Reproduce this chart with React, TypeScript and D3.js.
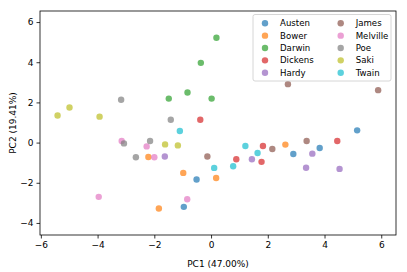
import React, { useEffect, useRef } from "react";
import * as d3 from "d3";

const authors = ["Austen", "Bower", "Darwin", "Dickens", "Hardy", "James", "Melville", "Poe", "Saki", "Twain"];
const colors = ["#1f77b4", "#ff7f0e", "#2ca02c", "#d62728", "#9467bd", "#8c564b", "#e377c2", "#7f7f7f", "#bcbd22", "#17becf"];

// PC1 / PC2 per author, 5 texts each
const pc1 = [
  [5.15, -0.51, -0.96, 2.9, 3.83],
  [-2.21, -0.98, -1.84, 0.18, 2.62],
  [-1.49, -0.83, -0.36, 0.19, 0.02],
  [-0.38, 1.83, 4.45, 0.89, 1.78],
  [-1.63, 1.44, 3.57, 3.35, 4.53],
  [2.71, 5.89, -0.13, 2.16, 3.37],
  [-3.15, -2.27, -2.0, -3.96, -0.84],
  [-3.17, -1.42, -3.07, -2.15, -2.65],
  [-5.41, -4.99, -3.93, -1.62, -1.17],
  [-1.1, 1.21, 1.64, 0.11, 0.78],
];
const pc2 = [
  [0.61, -1.84, -3.2, -0.57, -0.27],
  [-0.72, -1.51, -3.28, -1.76, -0.1],
  [2.19, 2.49, 3.97, 5.22, 2.19],
  [1.14, -0.17, 0.08, -0.83, -0.96],
  [-0.69, -0.83, -0.55, -1.25, -1.31],
  [2.91, 2.61, -0.69, -0.32, 0.08],
  [0.08, -0.19, -0.73, -2.7, -2.82],
  [2.13, 1.14, -0.04, 0.08, -0.73],
  [1.35, 1.75, 1.29, -0.09, -0.14],
  [0.58, -0.17, -0.52, -1.26, -1.18],
];
const xTicks = [-6, -4, -2, 0, 2, 4, 6];
const yTicks = [-4, -2, 0, 2, 4, 6];

const W = 407;
const H = 272;
const m = { left: 40, right: 11, top: 11, bottom: 37 };
const font = "DejaVu Sans";

export default function App() {
  const svgRef = useRef<SVGSVGElement>(null);

  useEffect(() => {
    const svg = d3.select(svgRef.current);
    svg.selectAll("*").remove();

    const x = d3.scaleLinear().domain([-6.03, 6.52]).range([m.left, W - m.right]);
    const y = d3.scaleLinear().domain([-4.6, 6.55]).range([H - m.bottom, m.top]);
    const fmt = (d: any) => String(d).replace("-", "\u2212");

    const pts = authors.flatMap((a, i) => pc1[i].map((v, j) => ({ i, x: v, y: pc2[i][j] })));
    svg
      .append("g")
      .selectAll("circle")
      .data(pts)
      .join("circle")
      .attr("cx", (d) => x(d.x))
      .attr("cy", (d) => y(d.y))
      .attr("r", 3.2)
      .attr("fill", (d) => colors[d.i])
      .attr("fill-opacity", 0.7);

    const gx = svg
      .append("g")
      .attr("transform", `translate(0,${H - m.bottom})`)
      .call(d3.axisBottom(x).tickValues(xTicks).tickFormat(fmt).tickSize(3.5).tickPadding(3));
    const gy = svg
      .append("g")
      .attr("transform", `translate(${m.left},0)`)
      .call(d3.axisLeft(y).tickValues(yTicks).tickFormat(fmt).tickSize(3.5).tickPadding(3));
    [gx, gy].forEach((g) => {
      g.select(".domain").remove();
      g.selectAll("text").attr("font-family", font).attr("font-size", 9).attr("fill", "#000");
      g.selectAll("line").attr("stroke", "#000").attr("stroke-width", 0.8);
    });

    svg
      .append("rect")
      .attr("x", m.left)
      .attr("y", m.top)
      .attr("width", W - m.left - m.right)
      .attr("height", H - m.top - m.bottom)
      .attr("fill", "none")
      .attr("stroke", "#000")
      .attr("stroke-width", 0.8);

    svg
      .append("text")
      .attr("x", (m.left + W - m.right) / 2)
      .attr("y", 267)
      .attr("text-anchor", "middle")
      .attr("font-family", font)
      .attr("font-size", 9)
      .text("PC1 (47.00%)");
    svg
      .append("text")
      .attr("transform", `translate(16,${(m.top + H - m.bottom) / 2}) rotate(-90)`)
      .attr("text-anchor", "middle")
      .attr("font-family", font)
      .attr("font-size", 9)
      .text("PC2 (19.41%)");

    // legend
    const lg = svg.append("g");
    lg.append("rect")
      .attr("x", 253)
      .attr("y", 14.5)
      .attr("width", 138)
      .attr("height", 66.5)
      .attr("rx", 2)
      .attr("fill", "#fff")
      .attr("fill-opacity", 0.8)
      .attr("stroke", "#ccc")
      .attr("stroke-width", 0.8);
    const items = lg
      .selectAll("g")
      .data(authors)
      .join("g")
      .attr("transform", (d, i) => `translate(${i < 5 ? 265 : 340.7},${23.3 + (i % 5) * 12.35})`);
    items
      .append("circle")
      .attr("r", 3.2)
      .attr("fill", (d, i) => colors[i])
      .attr("fill-opacity", 0.7);
    items
      .append("text")
      .attr("x", 15)
      .attr("dy", "0.35em")
      .attr("font-family", font)
      .attr("font-size", 8.6)
      .text((d) => d);
  }, []);

  return <svg ref={svgRef} width={W} height={H} style={{ position: "absolute", left: 0, top: 0 }} />;
}
